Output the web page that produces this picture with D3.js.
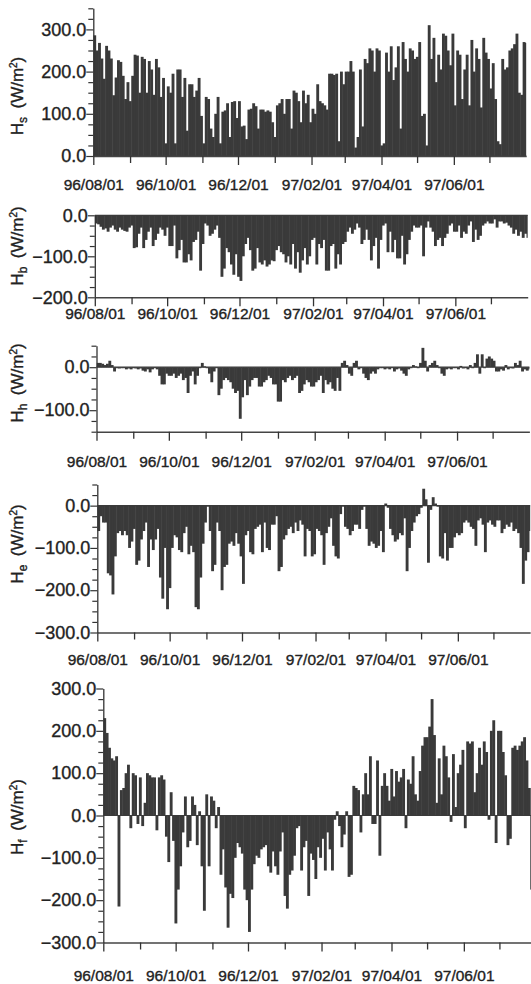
<!DOCTYPE html>
<head>
<meta charset="utf-8">
<title>Heat flux components</title>
<script src="https://cdn.jsdelivr.net/npm/d3@7"></script>
<style>
  body { margin: 0; background: #fff; }
  text { font-family: "Liberation Sans", Arial, sans-serif; fill: #222; stroke: #222; stroke-width: 0.35px; }
</style>
</head>
<body>
<div id="chart"></div>
<script>

// two-day bins starting 96/08/01, one value per bin (W/m2)
const binStart = new Date(1996, 7, 1);
const binDays = 2;
const tickMonths = ["1996-08-01","1996-09-01","1996-10-01","1996-11-01","1996-12-01","1997-01-01",
                    "1997-02-01","1997-03-01","1997-04-01","1997-05-01","1997-06-01","1997-07-01"];

const Hs = [
  286,250,268,231,183,261,250,231,144,186,227,223,190,135,175,130,
  190,240,238,150,235,230,150,225,205,145,230,210,140,185,30,
  165,150,195,30,205,205,140,185,60,170,170,140,155,185,95,
  30,140,135,65,45,100,140,30,105,108,125,45,128,130,90,
  130,70,72,40,110,112,125,118,65,110,110,105,108,105,80,
  45,120,125,135,100,135,135,65,155,150,130,80,155,125,145,
  80,112,100,170,130,125,120,110,195,195,192,195,35,200,
  170,200,200,225,200,20,45,205,70,230,220,255,250,200,255,250,
  25,30,245,200,260,180,210,260,65,270,230,200,255,250,230,
  235,270,95,100,25,310,230,280,175,240,205,290,285,250,215,290,
  120,250,240,135,205,240,120,275,200,255,230,115,280,245,230,
  160,220,135,35,28,230,205,210,250,255,265,290,150,145,270,268
];

const Hb = [
  -20,-22,-28,-35,-32,-40,-30,-25,-35,-40,-30,-35,-38,-40,-30,-25,
  -80,-78,-45,-30,-80,-60,-40,-30,-75,-60,-45,-30,-35,-50,-30,
  -75,-75,-25,-105,-85,-60,-115,-115,-95,-110,-65,-60,-40,-135,-70,
  -20,-25,-50,-45,-35,-25,-55,-150,-130,-80,-90,-120,-145,-95,-150,
  -160,-100,-70,-55,-85,-135,-130,-80,-115,-120,-110,-125,-120,-110,-112,
  -85,-75,-90,-95,-115,-100,-120,-70,-130,-90,-140,-110,-80,-120,-100,
  -60,-55,-120,-70,-80,-60,-135,-135,-75,-70,-130,-95,-120,-70,
  -65,-40,-30,-45,-35,-20,-30,-70,-60,-35,-60,-110,-75,-55,-130,-60,
  -25,-20,-90,-40,-90,-60,-105,-105,-50,-120,-95,-60,-40,-25,-30,
  -30,-25,-100,-30,-15,-30,-40,-75,-60,-55,-75,-55,-45,-25,-20,-40,
  -40,-25,-55,-40,-45,-25,-15,-65,-35,-60,-50,-25,-20,-15,-20,
  -20,-10,-30,-15,-15,-20,-18,-25,-30,-45,-35,-50,-40,-55,-45,-55
];

const Hh = [
  10,10,8,5,8,15,5,-10,0,-3,0,-2,-5,-3,-5,0,
  -3,-5,-3,-8,-10,-5,-12,-5,0,-5,-20,-40,-40,-15,-20,
  -20,-15,-25,-20,-15,-30,-25,-60,-20,-10,-40,-20,0,10,2,
  0,-15,-35,-10,0,-65,-50,-30,-25,-30,-35,-50,-60,-55,-120,
  -70,-30,-65,-45,-30,-25,-25,-45,-45,-35,-30,-20,-25,-40,-40,
  -80,-80,-30,-35,-25,-20,-30,-25,-20,-60,-55,-40,-30,-35,-45,
  -45,-35,-30,-20,-60,-30,-40,-35,-50,-55,-25,-55,10,15,
  5,-15,-20,10,15,-5,0,-15,-25,-30,-15,-10,-15,-5,0,0,
  -5,-3,-5,0,-10,-5,-3,-8,-15,-20,-5,0,5,2,0,
  10,45,15,-10,5,10,15,5,0,-15,-20,-5,-3,-5,0,0,
  -5,3,-3,0,-5,5,0,10,30,-15,30,0,20,25,20,
  15,-10,-10,-5,-8,5,-5,0,-3,10,5,15,-10,-5,-8,-5
];

const He = [
  -60,-25,-40,-40,-160,-165,-210,-120,-65,-60,-70,-60,-70,-100,-85,-55,
  -140,-130,-80,-60,-40,-145,-80,-105,-80,-55,-170,-220,-100,-245,-195,
  -100,-70,-75,-105,-110,-65,-50,-115,-95,-110,-240,-245,-170,-90,-40,
  0,-60,-155,-140,-40,-60,-200,-145,-140,-90,-85,-95,-65,-90,-120,
  -185,-70,-60,-110,-115,-55,-50,-45,-110,-40,-100,-105,-45,-45,-25,
  -155,-145,-80,-70,-55,-50,-65,-40,-60,-35,-45,-120,-55,-60,-120,
  -115,-55,-60,-70,-140,-65,-50,-30,-95,-120,-125,-20,0,-50,
  -55,-70,-60,-45,-45,-55,-10,0,-55,-95,-85,-90,-100,-95,-60,-110,
  5,-5,-55,-70,-85,-80,-65,-70,-30,-155,-100,-60,-40,-25,-20,
  -5,40,15,-135,-10,20,5,0,-120,-125,-65,-130,-100,-100,-75,-65,
  -70,-65,-40,-35,-40,-50,-55,-95,-35,-30,-45,-110,-40,-35,-45,
  -50,-35,-35,-65,-55,-45,-50,-40,-60,-55,-65,-100,-185,-130,-110,-60
];

const Hf = [
  230,195,160,135,130,140,-215,60,65,100,120,-30,100,95,-20,90,
  -25,30,100,95,90,90,-35,90,95,85,-50,-110,55,-60,-255,
  -175,-120,-40,45,-75,-60,45,25,-70,10,-120,-225,50,-120,45,
  35,-30,20,-140,-80,-170,-265,-185,-195,-100,-65,-75,-90,-175,-200,
  -275,-175,-115,-95,-100,-80,-75,-70,-120,-135,-85,-120,-140,-85,-40,
  -190,-220,-140,-130,-95,-30,-25,-130,-75,-60,-190,-90,-105,-150,-75,
  -100,-55,-130,-40,-80,-130,-10,10,-25,-75,-45,10,-145,-140,
  70,65,60,-40,50,100,50,140,-20,-20,130,-95,70,100,70,35,
  110,45,105,80,90,110,-30,85,75,140,50,35,105,165,185,
  185,210,275,190,30,135,50,165,140,90,-15,145,20,100,120,155,
  -30,175,170,175,55,100,160,120,175,150,-10,200,225,-65,200,
  200,150,95,-70,-55,160,165,155,165,175,185,130,65,-175,-100,-50
];

const pxPerDay = 1.186;
const W = 531, H = 984;

const panels = [
  {sub: "s", values: Hs, domain: [0, 350],    top: 8.3,   bottom: 156,   x0: 93.3,  labelY: 190, titleY: 96},
  {sub: "b", values: Hb, domain: [-200, 0],   top: 215.3, bottom: 297.3, x0: 94.8,  labelY: 319, titleY: 246},
  {sub: "h", values: Hh, domain: [-150, 50],  top: 345.7, bottom: 431.7, x0: 96.5,  labelY: 467, titleY: 383},
  {sub: "e", values: He, domain: [-300, 50],  top: 484.5, bottom: 632.5, x0: 97.3,  labelY: 665, titleY: 544},
  {sub: "f", values: Hf, domain: [-300, 300], top: 688.5, bottom: 942.5, x0: 103.3, labelY: 981, titleY: 817}
];

const svg = d3.select("#chart").append("svg")
    .attr("width", W).attr("height", H)
    .attr("viewBox", [0, 0, W, H]);

const endDate = new Date(1997, 7, 1);
const months = tickMonths.map(d3.timeParse("%Y-%m-%d"));
const fmt = d3.timeFormat("%y/%m/%d");
const barColor = "#3a3a3a";

panels.forEach((p, k) => {
  const x = d3.scaleTime().domain([binStart, endDate]).range([p.x0, p.x0 + 365 * pxPerDay]);
  const y = d3.scaleLinear().domain(p.domain).range([p.bottom, p.top]);
  const g = svg.append("g");

  const clipId = "clip" + k;
  svg.append("clipPath").attr("id", clipId)
    .append("rect").attr("x", p.x0).attr("y", p.top - 2)
    .attr("width", 365 * pxPerDay).attr("height", p.bottom - p.top + 4);

  const bins = p.values.map((v, i) => ({d: d3.timeDay.offset(binStart, i * binDays), v}));

  g.append("g").attr("clip-path", `url(#${clipId})`)
    .selectAll("rect").data(bins).join("rect")
      .attr("x", d => x(d.d))
      .attr("width", d => x(d3.timeDay.offset(d.d, binDays)) - x(d.d) + 0.5)
      .attr("y", d => y(Math.max(0, d.v)))
      .attr("height", d => Math.max(1, Math.abs(y(d.v) - y(0))))
      .attr("fill", barColor);

  // zero line
  g.append("line")
    .attr("x1", p.x0).attr("x2", x(endDate))
    .attr("y1", y(0)).attr("y2", y(0))
    .attr("stroke", barColor).attr("stroke-width", 1.2);

  // y axis
  const yTicks = d3.range(p.domain[0], p.domain[1] + 1, 25);
  const yAxis = g.append("g").attr("transform", `translate(${p.x0},0)`)
    .call(d3.axisLeft(y).tickValues(yTicks).tickSizeOuter(0)
      .tickFormat(d => d % 100 === 0 ? d3.format(".1f")(d) : ""));
  yAxis.select(".domain").attr("stroke", "#333").attr("stroke-width", 1.3);
  yAxis.selectAll(".tick line").attr("stroke", "#333").attr("stroke-width", 1.2)
    .attr("x2", d => d % 100 === 0 ? -7 : -5);
  yAxis.selectAll(".tick text").attr("x", -7).attr("font-size", 18).style("fill", "#222");

  // x axis
  const xAxis = g.append("g").attr("transform", `translate(0,${p.bottom})`)
    .call(d3.axisBottom(x).tickValues(months).tickSizeOuter(0)
      .tickFormat((d, i) => i % 2 === 0 ? fmt(d) : ""));
  xAxis.select(".domain").attr("stroke", "#444").attr("stroke-width", 1.6);
  xAxis.selectAll(".tick line").attr("stroke", "#333").attr("stroke-width", 1.3)
    .attr("y2", (d, i) => i % 2 === 0 ? 9 : 7);
  xAxis.selectAll(".tick text").attr("y", 0).attr("dy", null)
    .attr("transform", `translate(0,${p.labelY - p.bottom})`)
    .attr("font-size", 15.5).style("fill", "#222");

  // axis title
  const t = svg.append("text")
    .attr("transform", `translate(23,${p.titleY}) rotate(-90)`)
    .attr("text-anchor", "middle").attr("font-size", 17);
  t.append("tspan").text("H");
  t.append("tspan").attr("font-size", 12).attr("dy", 4).text(p.sub);
  t.append("tspan").attr("dy", -4).text("\u2002(W/m");
  t.append("tspan").attr("font-size", 10).attr("dy", -6).text("2");
  t.append("tspan").attr("dy", 6).text(")");
});

</script>
</body>
</html>
